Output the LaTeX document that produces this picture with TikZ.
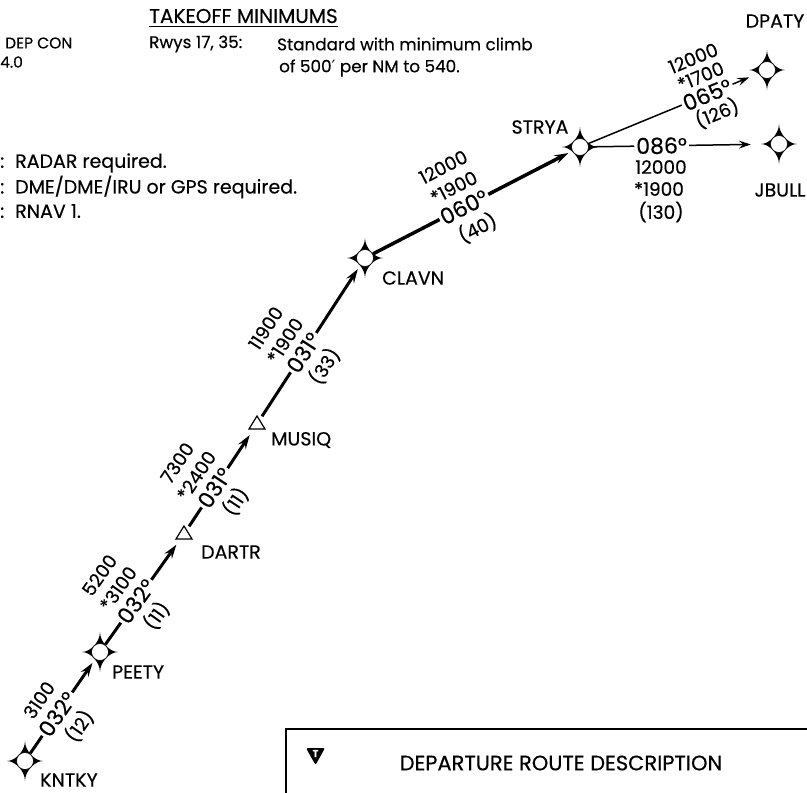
\documentclass[tikz,border=0pt]{standalone}
\usepackage{fontspec}
\setmainfont{Poppins}[FakeBold=0.35]
\newfontfamily\symfont{DejaVu Sans}
\usetikzlibrary{arrows.meta}
\begin{document}
\begin{tikzpicture}[x=1pt,y=-1pt,
  wp/.style={circle,minimum size=18pt,inner sep=0pt},
  route/.style={line width=3pt,-{Stealth[length=14pt,width=9pt,inset=5pt]}},
  thinroute/.style={line width=1.5pt,-{Stealth[length=12pt,width=8pt,inset=4.5pt]}},
  hdg/.style={font=\fontsize{22}{22}\selectfont,fill=white,inner sep=2pt,sloped},
  alt/.style={font=\fontsize{18.5}{18.5}\selectfont,inner sep=0pt,sloped},
  halt/.style={font=\fontsize{18.5}{18.5}\selectfont,inner sep=0pt},
  wpname/.style={font=\fontsize{19}{19}\selectfont,inner sep=0pt},
  txt/.style={font=\fontsize{16.8}{16.8}\selectfont,anchor=west,inner sep=0pt},
  side/.style={font=\fontsize{19}{19}\selectfont,anchor=west,inner sep=0pt},
  small/.style={font=\fontsize{15.5}{15.5}\selectfont,anchor=west,inner sep=0pt},
  star/.pic={
    \fill (0,-20) .. controls (0,-10) and (10,0) .. (18,0)
      .. controls (10,0) and (0,10) .. (0,20)
      .. controls (0,10) and (-10,0) .. (-18,0)
      .. controls (-10,0) and (0,-10) .. (0,-20) -- cycle;
    \filldraw[fill=white,draw=black,line width=0.6pt] (0,0) circle[radius=8.5];
  },
  tri/.pic={
    \draw[line width=1.2pt,fill=white] (-8,5) -- (8,5) -- (0,-8) -- cycle;
  }
]
\useasboundingbox (0,0) rectangle (807,793);

% waypoints
\node[wp] (KNTKY) at (25,761) {};
\node[wp] (PEETY) at (100,652) {};
\node[wp] (DARTR) at (184,534) {};
\node[wp] (MUSIQ) at (257,424) {};
\node[wp] (CLAVN) at (365,258) {};
\node[wp] (STRYA) at (580,147) {};
\node[wp] (DPATY) at (767,70) {};
\node[wp] (JBULL) at (779,144) {};

% routes
\draw[route,shorten >=4pt] (KNTKY) -- (PEETY);
\draw[route,shorten >=4pt] (PEETY) -- (DARTR);
\draw[route,shorten >=4pt] (DARTR) -- (MUSIQ);
\draw[route,shorten >=4pt] (MUSIQ) -- (CLAVN);
\draw[route,line width=3.5pt,shorten >=4pt] (CLAVN) -- (STRYA);
\draw[thinroute,shorten >=10pt] (STRYA) -- (DPATY);
\draw[thinroute,shorten >=19pt] (STRYA) -- (JBULL);

% symbols
\pic at (KNTKY) {star};
\pic at (PEETY) {star};
\pic at (CLAVN) {star};
\pic at (STRYA) {star};
\pic at (DPATY) {star};
\pic at (JBULL) {star};
\pic at (DARTR) {tri};
\pic at (MUSIQ) {tri};

% waypoint names
\node[wpname,anchor=west] (nK) at (40,780) {KNTKY};
\node[wpname,anchor=west] (nP) at (112,672) {PEETY};
\node[wpname,anchor=west] (nD) at (201,552) {DARTR};
\node[wpname,anchor=west] (nM) at (271,440) {MUSIQ};
\node[wpname,anchor=west] (nC) at (382,278) {CLAVN};
\node[wpname] (nS) at (540,127) {STRYA};
\node[wpname] (nDP) at (775,21) {DPATY};
\node[wpname] (nJ) at (780,190) {JBULL};

% segment labels
\path (KNTKY.center) -- (PEETY.center)
  node[alt,pos=0.44,yshift=23pt] (a1) {3100}
  node[hdg,pos=0.43] (h1) {032°}
  node[alt,pos=0.45,yshift=-25pt] (d1) {(12)};
\path (PEETY.center) -- (DARTR.center)
  node[alt,pos=0.43,yshift=45pt] (a2) {5200}
  node[alt,pos=0.43,yshift=22pt] (m2) {*3100}
  node[hdg,pos=0.43] (h2) {032°}
  node[alt,pos=0.43,yshift=-25pt] (d2) {(11)};
\path (DARTR.center) -- (MUSIQ.center)
  node[alt,pos=0.42,yshift=45pt] (a3) {7300}
  node[alt,pos=0.42,yshift=22pt] (m3) {*2400}
  node[hdg,pos=0.42] (h3) {031°}
  node[alt,pos=0.42,yshift=-25pt] (d3) {(11)};
\path (MUSIQ.center) -- (CLAVN.center)
  node[alt,pos=0.43,yshift=45pt] (a4) {11900}
  node[alt,pos=0.43,yshift=22pt] (m4) {*1900}
  node[hdg,pos=0.43] (h4) {031°}
  node[alt,pos=0.43,yshift=-25pt] (d4) {(33)};
\path (CLAVN.center) -- (STRYA.center)
  node[alt,pos=0.46,yshift=45pt] (a5) {12000}
  node[alt,pos=0.46,yshift=22pt] (m5) {*1900}
  node[hdg,pos=0.46] (h5) {060°}
  node[alt,pos=0.47,yshift=-25pt] (d5) {(40)};
\path (STRYA.center) -- (DPATY.center)
  node[alt,pos=0.685,yshift=39pt] (a6) {12000}
  node[alt,pos=0.685,yshift=19.5pt] (m6) {*1700}
  node[hdg,pos=0.68] (h6) {065°}
  node[alt,pos=0.69,yshift=-21pt] (d6) {(126)};
\path (STRYA.center) -- (JBULL.center)
  node[hdg,pos=0.41] (h7) {086°};
\node[halt] (a7) at (661,167) {12000};
\node[halt] (m7) at (659,189) {*1900};
\node[halt] (d7) at (661,212) {(130)};

% header text
\node[small] (dep) at (5,43) {DEP CON};
\node[small] (dep2) at (0,62) {4.0};
\node[txt,font=\fontsize{20}{20}\selectfont] (tom) at (149,16) {TAKEOFF MINIMUMS};
\draw[line width=1pt] ([yshift=-3pt]tom.south west) -- ([yshift=-3pt]tom.south east);
\node[txt] (rwy) at (149,44) {Rwys 17, 35:};
\node[txt] (std) at (277,44) {Standard with minimum climb};
\node[txt] (of) at (279,68) {of 500{\symfont ′} per NM to 540.};

\node[side] (n1) at (0,163) {:\hspace{11pt}RADAR required.};
\node[side] (n2) at (0,187) {:\hspace{11pt}DME/DME/IRU or GPS required.};
\node[side] (n3) at (0,211) {:\hspace{11pt}RNAV 1.};

% bottom box
\draw[line width=2pt] (286,794) -- (286,729) -- (808,729);
\fill[rounded corners=2pt] (306,748) -- (325,748) -- (315.5,765) -- cycle;
\node[font=\fontsize{10}{10}\selectfont\bfseries,text=white,inner sep=0pt] (tsym) at (315.5,753.5) {T};
\node[font=\fontsize{21}{21}\selectfont,inner sep=0pt] (drd) at (561,763) {DEPARTURE ROUTE DESCRIPTION};
\end{tikzpicture}
\end{document}
